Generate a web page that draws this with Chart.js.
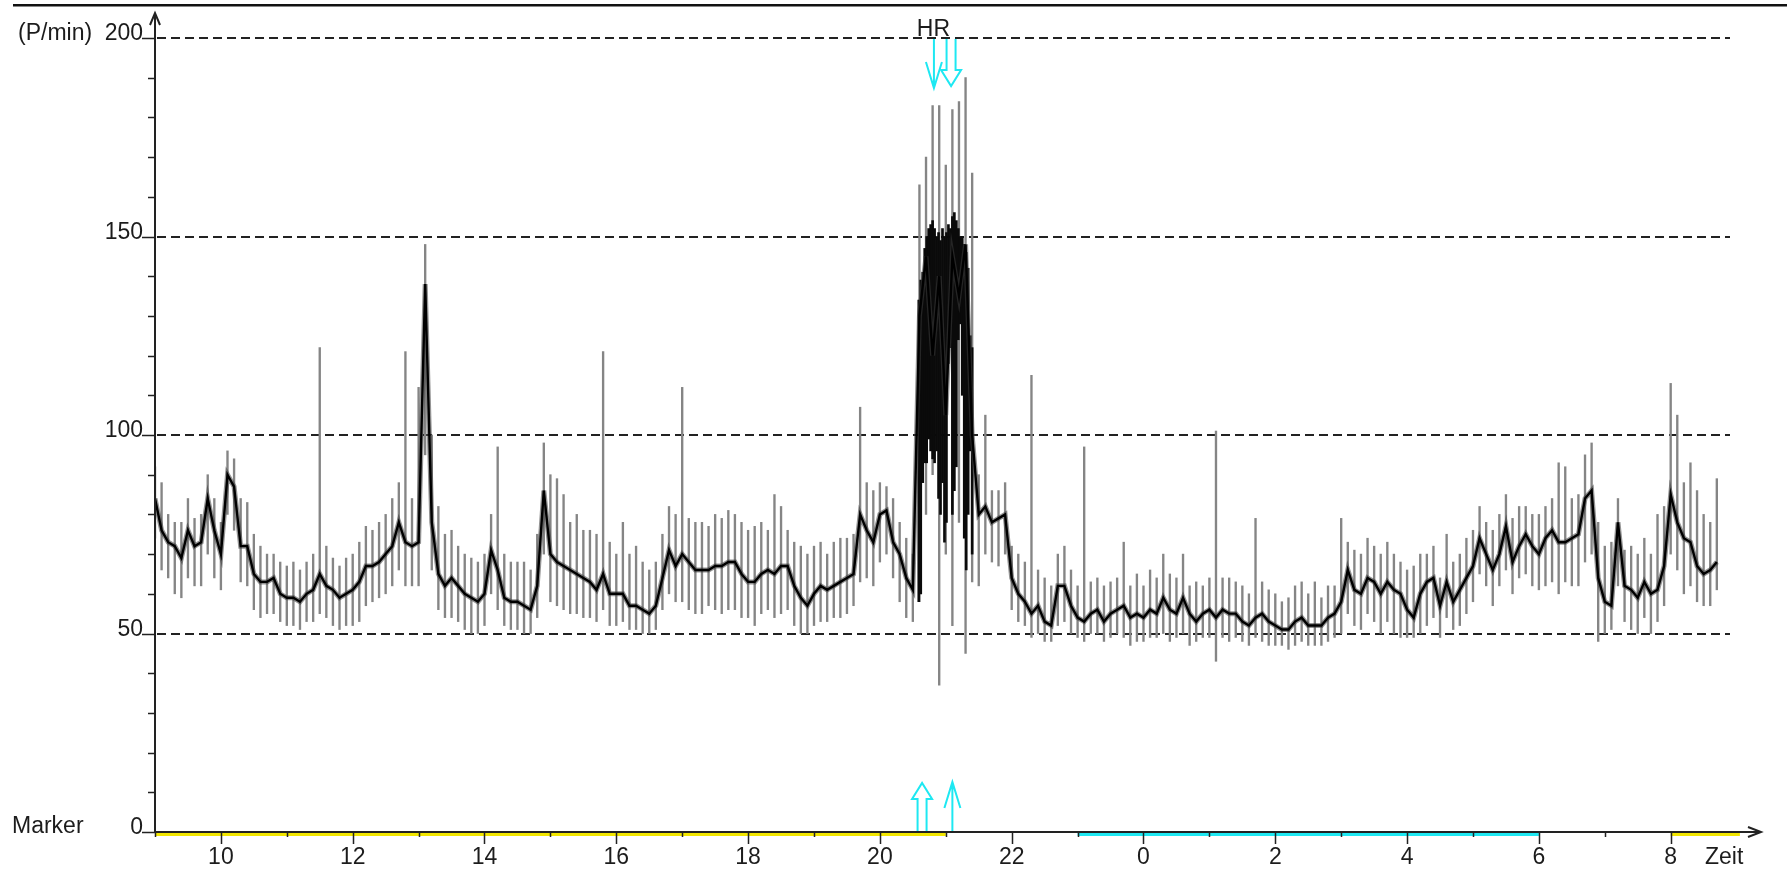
<!DOCTYPE html>
<html lang="de">
<head>
<meta charset="UTF-8">
<title>HR Trend</title>
<script src="https://cdn.jsdelivr.net/npm/chart.js@4.4.1/dist/chart.umd.min.js"></script>
<style>
  html, body { margin: 0; padding: 0; background: #fff; }
  canvas { display: block; }
</style>
</head>
<body>
<canvas id="chart" width="1787" height="872"></canvas>
<script>
// sample grid: one value every 6 minutes, starting 9:00
const startHour = 9
const stepHour = 0.1

// mean heart rate (P/min), one row per hour
const hrMean = [
  84,76,73,72,69,76,72,73,84,76,
  70,90,87,72,72,65,63,63,64,60,
  59,59,58,60,61,65,62,61,59,60,
  61,63,67,67,68,70,72,78,73,72,
  73,138,78,65,62,64,62,60,59,58,
  60,71,66,59,58,58,57,56,62,86,
  70,68,67,66,65,64,63,61,65,60,
  60,60,57,57,56,55,57,64,71,67,
  70,68,66,66,66,67,67,68,68,65,
  63,63,65,66,65,67,67,62,59,57,
  60,62,61,62,63,64,65,80,76,73,
  80,81,73,70,64,61,130,145,120,140,
  105,145,135,148,100,80,82,78,79,80,
  64,60,58,55,57,53,52,62,62,57,
  54,53,55,56,53,55,56,57,54,55,
  54,56,55,59,56,55,59,55,53,55,
  56,54,56,55,55,53,52,54,55,53,
  52,51,51,53,54,52,52,52,54,55,
  58,66,61,60,64,63,60,63,61,60,
  56,54,60,63,64,57,63,58,61,64,
  67,74,70,66,70,77,68,72,75,72,
  70,74,76,73,73,74,75,84,86,64,
  58,57,78,62,61,59,63,60,61,67,
  85,78,74,73,67,65,66,68
]
// max / min beat rates inside each sample
const hrHigh = [
  92,88,80,78,78,84,79,80,90,84,
  78,96,94,84,83,75,72,70,70,68,
  67,68,66,68,70,122,72,69,67,69,
  70,73,77,76,78,80,84,88,121,84,
  112,148,100,82,75,76,72,70,69,68,
  70,80,97,70,68,68,68,66,75,98,
  90,89,85,78,80,76,76,75,121,73,
  70,78,70,72,68,66,68,75,82,80,
  112,79,78,78,77,80,79,81,80,78,
  76,77,78,76,85,82,76,73,72,70,
  72,73,70,73,74,74,75,107,88,86,
  88,87,84,78,74,70,163,170,183,183,
  168,182,184,190,166,90,105,86,86,88,
  72,70,68,115,66,64,62,70,72,66,
  62,97,63,64,62,63,64,73,62,65,
  62,66,64,70,65,64,70,62,63,62,
  64,101,64,64,63,62,60,79,63,61,
  60,58,59,62,63,60,63,59,62,62,
  79,73,71,70,74,72,70,73,70,68,
  66,67,70,70,72,64,75,68,70,74,
  76,82,78,76,80,85,79,82,82,80,
  80,82,84,93,92,84,85,95,98,78,
  72,73,84,71,72,70,74,70,80,82,
  113,105,88,93,86,80,78,89
]
const hrLow = [
  74,66,64,60,59,64,62,62,70,64,
  61,80,76,63,62,56,54,55,55,53,
  52,52,51,53,53,55,54,52,51,52,
  52,53,57,58,59,60,62,66,62,62,
  62,95,66,56,54,54,53,51,50,50,
  52,60,56,52,51,51,50,50,54,70,
  58,57,56,55,55,54,54,53,56,52,
  52,53,51,51,50,50,51,56,60,58,
  58,56,55,55,57,56,55,56,56,54,
  54,52,55,56,54,55,56,52,50,50,
  52,53,53,54,54,55,57,63,64,62,
  68,70,64,58,54,53,58,80,90,37,
  70,52,78,45,63,62,70,68,67,70,
  56,53,52,49,50,48,48,52,53,50,
  49,48,50,50,48,49,50,49,47,48,
  48,49,49,50,48,49,50,47,48,49,
  49,43,49,48,49,48,47,49,48,47,
  47,47,46,47,48,47,47,47,48,49,
  50,55,52,51,55,53,50,53,50,49,
  49,49,50,52,54,49,54,51,52,55,
  58,65,62,57,62,66,60,64,65,62,
  61,62,63,60,63,62,62,68,70,48,
  50,51,62,53,51,50,54,50,53,57,
  70,66,60,62,58,57,57,61
]

// tachycardia episode around 21:00, finer resolution
const episodeTimes = [20.59,20.62,20.65,20.68,20.71,20.74,20.77,20.80,20.83,20.86,20.89,20.92,20.95,20.98,
                      21.01,21.04,21.07,21.10,21.13,21.16,21.19,21.22,21.25,21.28,21.31,21.34,21.37,21.40]
const episodeLow  = [58,60,88,93,93,99,96,94,93,96,84,80,88,73,78,118,122,80,86,92,124,128,110,74,66,80,96,70]
const episodeHigh = [134,139,141,147,150,152,153,154,152,150,151,149,152,150,151,153,152,155,156,154,152,150,150,148,146,142,125,122]

// axes
const yTicks = [0, 50, 100, 150, 200]
const gridValues = [50, 100, 150, 200]
const xLabelHours = [10, 12, 14, 16, 18, 20, 22, 24, 26, 28, 30, 32]

// marker bar under the time axis (hours)
const markerYellow = [[9, 21], [32, 33.05]]
const markerCyan = [[23, 30]]

// event marks
const eventTopLine = [20.82]
const eventTopHollow = [21.08]
const eventBottomHollow = [20.64]
const eventBottomLine = [21.1]

const FONT = '23px "Liberation Sans", Arial, sans-serif'
const INK = '#1c1c1c'
const CYAN = '#1ee8f2'

const times = hrMean.map((_, i) => +(startHour + i * stepHour).toFixed(2))
const meanPoints = hrMean.map((v, i) => ({ x: times[i], y: v }))

function arrow(ctx, x, y0, tip, hollow) {
  const dir = tip > y0 ? 1 : -1
  const headLen = hollow ? 16 : 26
  const base = tip - dir * headLen
  ctx.beginPath()
  if (hollow) {
    ctx.moveTo(x - 4.5, y0)
    ctx.lineTo(x - 4.5, base)
    ctx.lineTo(x - 10, base)
    ctx.lineTo(x, tip)
    ctx.lineTo(x + 10, base)
    ctx.lineTo(x + 4.5, base)
    ctx.lineTo(x + 4.5, y0)
  } else {
    ctx.moveTo(x, y0)
    ctx.lineTo(x, tip)
    ctx.moveTo(x - 8, base)
    ctx.lineTo(x, tip)
    ctx.lineTo(x + 8, base)
  }
  ctx.stroke()
}

const frame = {
  id: 'frame',
  beforeDatasetsDraw(chart) {
    const { ctx, chartArea, scales: { y } } = chart
    ctx.save()
    ctx.strokeStyle = '#222'
    ctx.lineWidth = 2
    ctx.setLineDash([9, 5])
    gridValues.forEach(v => {
      const py = Math.round(y.getPixelForValue(v))
      ctx.beginPath()
      ctx.moveTo(chartArea.left + 2, py)
      ctx.lineTo(chartArea.right, py)
      ctx.stroke()
    })
    ctx.restore()
  },
  afterDraw(chart) {
    const { ctx, chartArea, scales: { x, y } } = chart
    const x0 = chartArea.left
    const y0 = y.getPixelForValue(0)
    const xEnd = chartArea.right + 31
    ctx.save()

    // top rule
    ctx.fillStyle = '#111'
    ctx.fillRect(13, 4, chart.width - 13, 2.5)

    // marker bars
    ctx.fillStyle = '#f2e600'
    markerYellow.forEach(([a, b]) => ctx.fillRect(x.getPixelForValue(a), y0 + 1, x.getPixelForValue(b) - x.getPixelForValue(a), 3))
    ctx.fillStyle = CYAN
    markerCyan.forEach(([a, b]) => ctx.fillRect(x.getPixelForValue(a), y0 + 1, x.getPixelForValue(b) - x.getPixelForValue(a), 3))

    // axes with arrows
    ctx.strokeStyle = '#222'
    ctx.lineWidth = 2
    ctx.beginPath()
    ctx.moveTo(x0, y0)
    ctx.lineTo(x0, 13)
    ctx.moveTo(x0 - 5, 25)
    ctx.lineTo(x0, 13)
    ctx.lineTo(x0 + 5, 25)
    ctx.moveTo(x0, y0)
    ctx.lineTo(xEnd, y0)
    ctx.moveTo(xEnd - 13, y0 - 5)
    ctx.lineTo(xEnd, y0)
    ctx.lineTo(xEnd - 13, y0 + 5)
    ctx.stroke()

    // y ticks
    ctx.lineWidth = 1.5
    ctx.beginPath()
    for (let v = 0; v <= 200; v += 10) {
      const py = Math.round(y.getPixelForValue(v)) + 0.5
      ctx.moveTo(x0 - (v % 50 === 0 ? 13 : 7), py)
      ctx.lineTo(x0, py)
    }
    // x ticks
    for (let h = 9; h <= 32; h++) {
      const px = Math.round(x.getPixelForValue(h)) + 0.5
      ctx.moveTo(px, y0 + 1)
      ctx.lineTo(px, y0 + (h % 2 === 0 ? 12 : 5))
    }
    ctx.stroke()

    // labels
    ctx.fillStyle = INK
    ctx.font = FONT
    ctx.textBaseline = 'alphabetic'
    ctx.textAlign = 'right'
    yTicks.forEach(v => ctx.fillText(String(v), x0 - 12, y.getPixelForValue(v) + 2))
    ctx.textAlign = 'left'
    ctx.fillText('(P/min)', 18, y.getPixelForValue(200) + 2)
    ctx.fillText('Marker', 12, y0 + 1)
    ctx.textAlign = 'center'
    xLabelHours.forEach(h => ctx.fillText(String(h % 24), x.getPixelForValue(h), y0 + 32))
    ctx.textAlign = 'left'
    ctx.fillText('Zeit', chartArea.right - 25, y0 + 32)
    ctx.fillText('HR', x.getPixelForValue(20.56), 36)

    // event arrows
    ctx.strokeStyle = CYAN
    ctx.lineWidth = 2
    const yTop = y.getPixelForValue(200) + 1
    eventTopLine.forEach(h => arrow(ctx, x.getPixelForValue(h), yTop, 88, false))
    eventTopHollow.forEach(h => arrow(ctx, x.getPixelForValue(h), yTop, 86, true))
    eventBottomHollow.forEach(h => arrow(ctx, x.getPixelForValue(h), y0 - 1, 783, true))
    eventBottomLine.forEach(h => arrow(ctx, x.getPixelForValue(h), y0 - 1, 782, false))

    ctx.restore()
  }
}

new Chart(document.getElementById('chart'), {
  type: 'line',
  data: {
    datasets: [
      {
        label: 'HR',
        data: meanPoints,
        borderColor: '#000',
        borderWidth: 2.4,
        pointRadius: 0,
        tension: 0,
        order: 0
      },
      {
        label: 'HR halo',
        data: meanPoints,
        borderColor: 'rgba(60,60,60,0.55)',
        borderWidth: 5,
        pointRadius: 0,
        tension: 0,
        order: 1
      },
      {
        type: 'bar',
        label: 'Episode',
        data: episodeTimes.map((t, i) => ({ x: t, y: [episodeLow[i], episodeHigh[i]] })),
        backgroundColor: '#0a0a0a',
        barThickness: 2,
        grouped: false,
        order: 2
      },
      {
        type: 'bar',
        label: 'Range',
        data: hrHigh.map((v, i) => ({ x: times[i], y: [hrLow[i], v] })),
        backgroundColor: '#858585',
        barThickness: 1.7,
        grouped: false,
        order: 3
      }
    ]
  },
  options: {
    responsive: false,
    animation: false,
    devicePixelRatio: 1,
    layout: { padding: { left: 155, right: 57, top: 38, bottom: 40 } },
    plugins: { legend: { display: false }, tooltip: { enabled: false } },
    scales: {
      x: { type: 'linear', min: 9, max: 32.9, offset: false, display: false },
      y: { type: 'linear', min: 0, max: 200, display: false }
    }
  },
  plugins: [frame]
})
</script>
</body>
</html>
